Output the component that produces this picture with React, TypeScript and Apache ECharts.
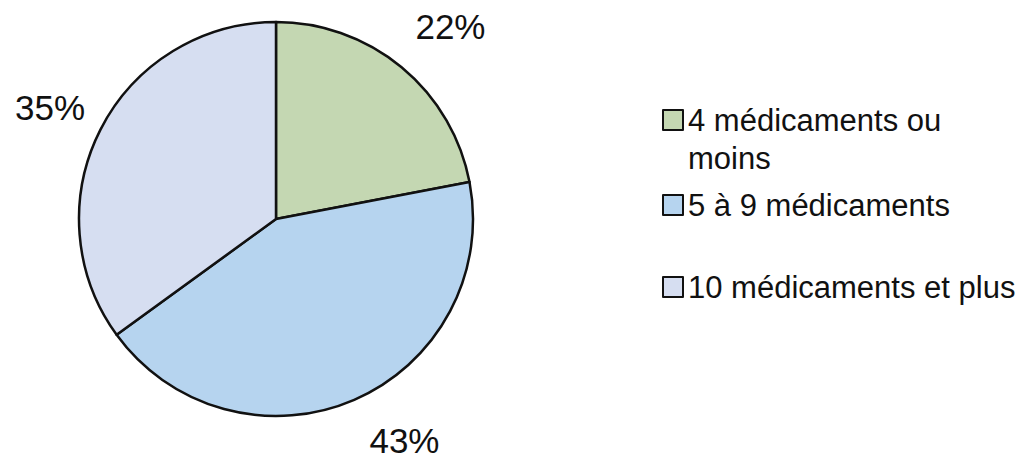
import React, { useEffect, useRef } from "react";
import * as echarts from "echarts";

const categories = ["4 médicaments ou moins", "5 à 9 médicaments", "10 médicaments et plus"];
const values = [22, 43, 35];
const colors = ["#c4d7b2", "#b6d4ef", "#d6def1"];
const legendLabels = [" \n4 médicaments ou\nmoins", "5 à 9 médicaments", "10 médicaments et plus"];
const labelOffsets = [[10, 6], [26, -15], [4, 6]];

const FONT = "'Liberation Sans', Arial, sans-serif";

export default function App() {
  const ref = useRef<HTMLDivElement>(null);
  useEffect(() => {
    if (!ref.current) return;
    const chart = echarts.init(ref.current, undefined, { renderer: "svg" });
    const data = categories.map((name, i) => ({
      name,
      value: values[i],
      itemStyle: { color: colors[i] },
    }));
    const legendTops = [63, 186, 268];
    chart.setOption({
      animation: false,
      backgroundColor: "#ffffff",
      legend: categories.map((name, i) => ({
        data: [name],
        orient: "vertical",
        left: 662,
        top: legendTops[i],
        padding: 0,
        icon: "rect",
        itemWidth: 20,
        itemHeight: 20,
        selectedMode: false,
        itemStyle: { borderColor: "#111", borderWidth: 2 },
        formatter: () => legendLabels[i],
        textStyle: {
          fontFamily: FONT,
          fontSize: 31,
          lineHeight: 38,
          color: "#111",
        },
      })),
      series: [
        {
          type: "pie",
          center: [276, 219],
          radius: 197,
          startAngle: 90,
          clockwise: true,
          silent: true,
          label: { show: false },
          labelLine: { show: false },
          itemStyle: { borderColor: "#111", borderWidth: 2.5 },
          data,
        },
        {
          type: "pie",
          center: [276, 219],
          radius: [232, 278],
          startAngle: 90,
          clockwise: true,
          silent: true,
          legendHoverLink: false,
          itemStyle: { color: "transparent", borderWidth: 0 },
          label: {
            show: true,
            position: "inside",
            formatter: "{c}%",
            fontFamily: FONT,
            fontSize: 35,
            color: "#111",
          },
          labelLine: { show: false },
          data: categories.map((name, i) => ({
            name: name + " ",
            value: values[i],
            label: { offset: labelOffsets[i] },
          })),
        },
      ],
    });
    return () => chart.dispose();
  }, []);
  return (
    <div
      ref={ref}
      style={{ position: "fixed", left: 0, top: 0, width: 1032, height: 459 }}
    />
  );
}
